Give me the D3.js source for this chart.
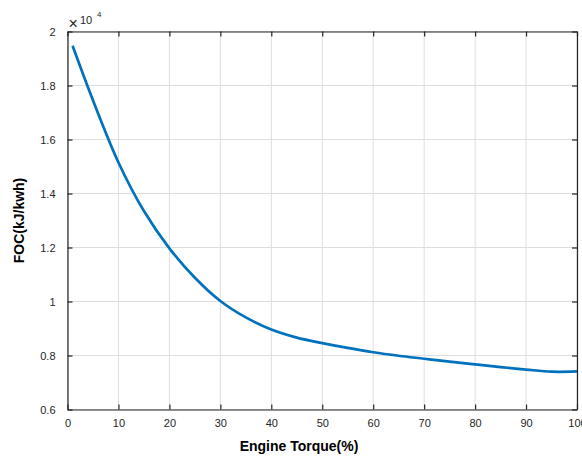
<!DOCTYPE html>
<html>
<head>
<meta charset="utf-8">
<script src="https://cdn.jsdelivr.net/npm/d3@7"></script>
<style>
  html, body { margin: 0; padding: 0; background: #fff; }
  svg { display: block; font-family: "Liberation Sans", Arial, Helvetica, sans-serif; }
</style>
</head>
<body>
<svg id="chart" width="582" height="457"></svg>
<script>
// Data (FOC in kJ/kWh)
const torque = [1, 5, 10, 15, 20, 25, 30, 35, 40, 45, 50, 55, 60, 65, 70, 75, 80, 85, 90, 95, 100];
const foc = [19470, 17450, 15150, 13350, 11970, 10880, 10020, 9410, 8960, 8660, 8460, 8280, 8120, 7990, 7880, 7770, 7670, 7570, 7480, 7400, 7410];
const xTicks = [0, 10, 20, 30, 40, 50, 60, 70, 80, 90, 100];
const yTicks = [6000, 8000, 10000, 12000, 14000, 16000, 18000, 20000];
const yTickLabels = ["0.6", "0.8", "1", "1.2", "1.4", "1.6", "1.8", "2"];

const svg = d3.select("#chart");
const L = 67.5, R = 577, T = 31.5, B = 409.5;
const x = d3.scaleLinear().domain([0, 100]).range([L, R]);
const y = d3.scaleLinear().domain([6000, 20000]).range([B, T]);

// grid
const grid = svg.append("g").attr("stroke", "#dedede").attr("stroke-width", 1);
grid.selectAll(".gx").data(xTicks).enter().append("line")
  .attr("x1", d => x(d)).attr("x2", d => x(d)).attr("y1", T).attr("y2", B);
grid.selectAll(".gy").data(yTicks).enter().append("line")
  .attr("y1", d => y(d)).attr("y2", d => y(d)).attr("x1", L).attr("x2", R);

// curve
const data = torque.map((t, i) => [t, foc[i]]);
svg.append("path")
  .datum(data)
  .attr("fill", "none")
  .attr("stroke", "#0072BD")
  .attr("stroke-width", 2.7)
  .attr("stroke-linejoin", "round")
  .attr("d", d3.line().x(d => x(d[0])).y(d => y(d[1])).curve(d3.curveCatmullRom.alpha(0.5)));

// axes (inside ticks, box)
const tl = 5;
const axCol = "#262626";
const xAxisB = d3.axisBottom(x).tickValues(xTicks).tickSizeInner(-tl).tickSizeOuter(0).tickPadding(10).tickFormat(d3.format("d"));
const xAxisT = d3.axisTop(x).tickValues(xTicks).tickSizeInner(-tl).tickSizeOuter(0).tickFormat("");
const yAxisL = d3.axisLeft(y).tickValues(yTicks).tickSizeInner(-tl).tickSizeOuter(0).tickPadding(12).tickFormat((d, i) => yTickLabels[i]);
const yAxisR = d3.axisRight(y).tickValues(yTicks).tickSizeInner(-tl).tickSizeOuter(0).tickFormat("");

function style(g) {
  g.select(".domain").attr("stroke", axCol).attr("stroke-width", 1.2);
  g.selectAll(".tick line").attr("stroke", axCol).attr("stroke-width", 1.2);
  g.selectAll(".tick text").attr("fill", axCol).attr("font-size", 11).attr("font-family", "Liberation Sans, Arial, sans-serif");
}
svg.append("g").attr("transform", `translate(0,${B})`).call(xAxisB).call(style);
svg.append("g").attr("transform", `translate(0,${T})`).call(xAxisT).call(style);
svg.append("g").attr("transform", `translate(${L},0)`).call(yAxisL).call(style);
svg.append("g").attr("transform", `translate(${R},0)`).call(yAxisR).call(style);

// exponent label
svg.append("text").attr("x", 68.5).attr("y", 28.5).attr("font-size", 16).attr("fill", axCol).text("\u00D7");
svg.append("text").attr("x", 80).attr("y", 23.5).attr("font-size", 11).attr("fill", axCol).text("10");
svg.append("text").attr("x", 97).attr("y", 17).attr("font-size", 8).attr("fill", axCol).text("4");

// axis titles
svg.append("text").attr("x", 299).attr("y", 451)
  .attr("text-anchor", "middle").attr("font-size", 14).attr("font-weight", "bold").attr("fill", "#000")
  .text("Engine Torque(%)");
svg.append("text")
  .attr("transform", `translate(24,${(T + B) / 2}) rotate(-90)`)
  .attr("text-anchor", "middle").attr("font-size", 14).attr("font-weight", "bold").attr("fill", "#000")
  .text("FOC(kJ/kwh)");
</script>
</body>
</html>
